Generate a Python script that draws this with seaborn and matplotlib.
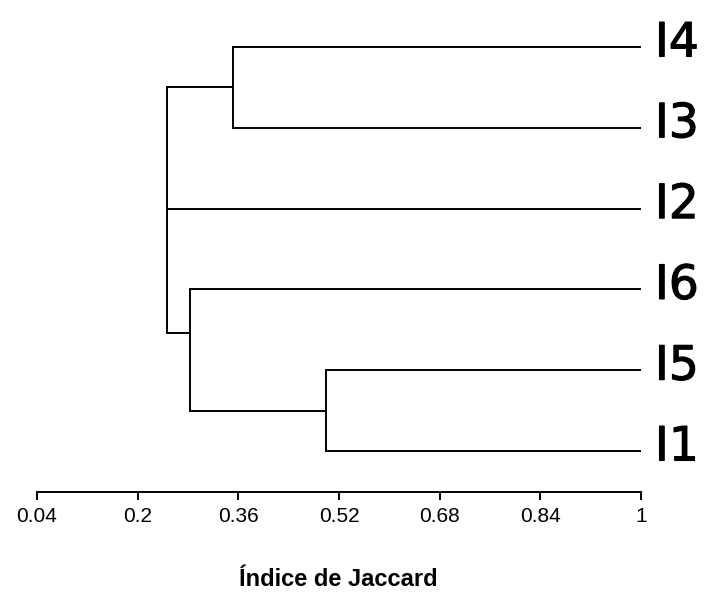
import matplotlib
matplotlib.use("Agg")
import matplotlib.pyplot as plt
import matplotlib.transforms as mtransforms
import matplotlib.patheffects as pe
import seaborn as sns

# ---- data ----
leaves = ["I4", "I3", "I2", "I6", "I5", "I1"]          # top to bottom
# merges: children (leaf names or earlier node ids), similarity at node,
# and the row at which the node joins its parent
node_ids = ["A", "B", "C", "R"]
node_children = [["I4", "I3"], ["I5", "I1"], ["I6", "B"], ["A", "I2", "C"]]
node_heights = [0.352, 0.50, 0.283, 0.247]
node_anchor = [0.5, 4.5, 3.54, 2.0]
leaf_height = 1.0
xticks = [0.04, 0.2, 0.36, 0.52, 0.68, 0.84, 1]
xtick_labels = ["0.04", "0.2", "0.36", "0.52", "0.68", "0.84", "1"]
xlabel = "Índice de Jaccard"

sns.set_style("white")
plt.rcParams["font.family"] = ["Liberation Sans", "DejaVu Sans"]
plt.rcParams["text.color"] = "black"
plt.rcParams["xtick.color"] = "black"
plt.rcParams["ytick.color"] = "black"

W, H = 708, 598
fig = plt.figure(figsize=(W / 100, H / 100), dpi=100)
ax = fig.add_axes([37 / W, 1 - 492 / H, (641 - 37) / W, (492 - 40) / H])

LW = 1.4
pos = {name: (leaf_height, i) for i, name in enumerate(leaves)}
for nid, ch, h, a in zip(node_ids, node_children, node_heights, node_anchor):
    ys = []
    for c in ch:
        cx, cy = pos[c]
        ax.plot([h, cx], [cy, cy], color="black", lw=LW, clip_on=False,
                solid_capstyle="butt")
        ys.append(cy)
    ax.plot([h, h], [min(ys), max(ys)], color="black", lw=LW, clip_on=False,
            solid_capstyle="projecting")
    pos[nid] = (h, a)

ax.set_xlim(0.04, 1.0)
ax.set_ylim(5 + 41 / 80.8, -7 / 80.8)

for s in ["top", "right", "left"]:
    ax.spines[s].set_visible(False)
ax.spines["bottom"].set_linewidth(LW)
ax.spines["bottom"].set_color("black")

ax.set_xticks(xticks)
ax.set_xticklabels(xtick_labels)
ax.tick_params(axis="x", direction="out", length=6, width=LW, color="black",
               labelsize=15, pad=5, bottom=True, labelcolor="black")

ax.yaxis.tick_right()
ax.set_yticks(range(len(leaves)))
ax.set_yticklabels(leaves, family=["DejaVu Sans"])
ax.tick_params(axis="y", length=0, labelsize=34, pad=10, right=False, left=False,
               labelcolor="black")
shift = mtransforms.ScaledTranslation(0, 8 / 100, fig.dpi_scale_trans)
for lab in ax.get_yticklabels():
    lab.set_transform(lab.get_transform() + shift)
    lab.set_path_effects([pe.withStroke(linewidth=0.8, foreground="black")])

fig.text(338 / W, 1 - 580 / H, xlabel, ha="center", va="center",
         fontsize=17, fontweight="bold", color="black")

fig.savefig("out.png", dpi=100, facecolor="white")
